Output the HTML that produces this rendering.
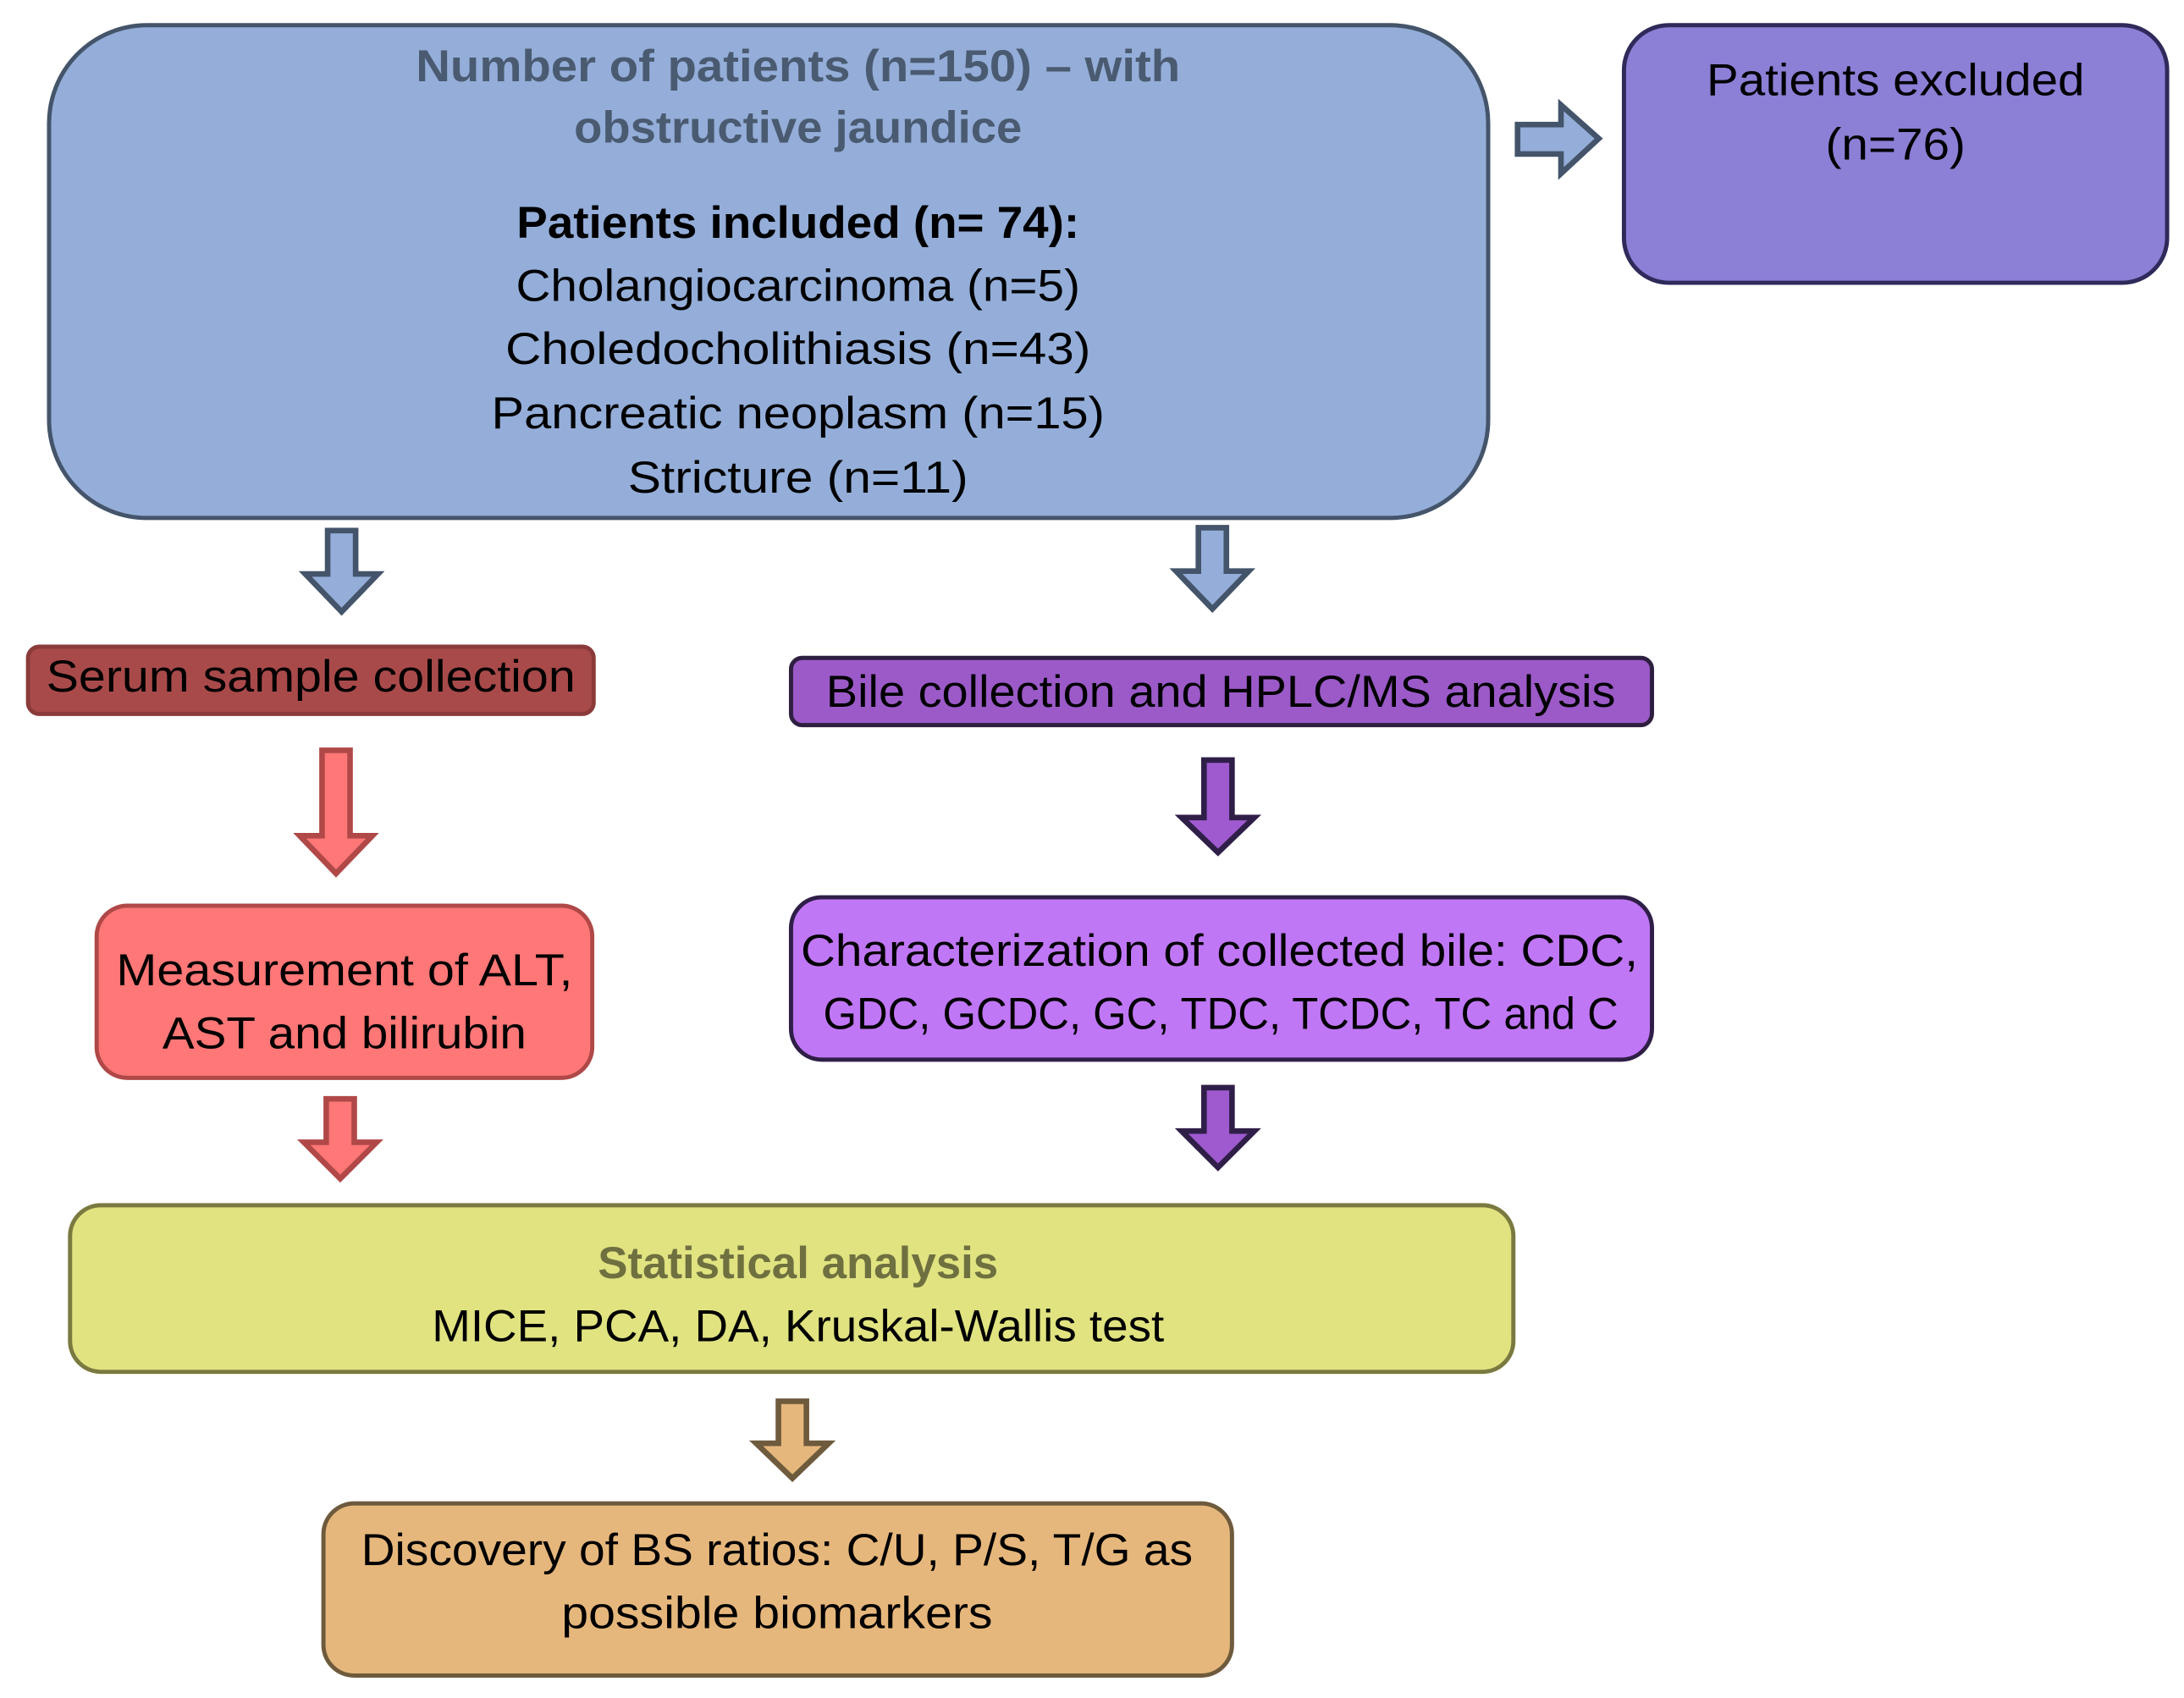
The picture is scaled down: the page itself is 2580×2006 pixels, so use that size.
<!DOCTYPE html>
<html><head><meta charset="utf-8"><style>html,body{margin:0;padding:0;background:#fff}svg{display:block}text{font-family:"Liberation Sans",sans-serif;font-size:32px;text-anchor:middle;fill:#000}</style></head>
<body>
<svg width="2580" height="2006" viewBox="0 0 1560 1213" xmlns="http://www.w3.org/2000/svg">
<rect width="1560" height="1213" fill="#fff"/>
<rect x="35" y="18" width="1028" height="352" rx="70" fill="#94aed9" stroke="#44546a" stroke-width="3"/>
<rect x="1160" y="18" width="388" height="184" rx="32" fill="#8b7fd6" stroke="#2e2a5a" stroke-width="3"/>
<rect x="20" y="462" width="404" height="48" rx="8" fill="#a94a4a" stroke="#8b3a3a" stroke-width="3"/>
<rect x="565" y="470" width="615" height="48" rx="8" fill="#9b5ac8" stroke="#2e1f40" stroke-width="3"/>
<rect x="69" y="647" width="354" height="123" rx="22" fill="#ff7777" stroke="#b04848" stroke-width="3"/>
<rect x="565" y="641" width="615" height="116" rx="22" fill="#c077f5" stroke="#2f1f48" stroke-width="3"/>
<rect x="50" y="861" width="1031" height="119" rx="22" fill="#e0e380" stroke="#7a7a40" stroke-width="3"/>
<rect x="231" y="1074" width="649" height="123" rx="22" fill="#e6b77c" stroke="#6e5a3c" stroke-width="3"/>
<polygon points="1084,89 1115,89 1115,75 1142,99 1115,124 1115,110 1084,110" fill="#94aed9" stroke="#44546a" stroke-width="4"/>
<polygon points="234,379 254,379 254,410 270,410 244,437 218,410 234,410" fill="#94aed9" stroke="#44546a" stroke-width="4"/>
<polygon points="856,377 876,377 876,408 892,408 866,435 840,408 856,408" fill="#94aed9" stroke="#44546a" stroke-width="4"/>
<polygon points="230,536 250,536 250,597 266,597 240,624 214,597 230,597" fill="#ff7777" stroke="#b04848" stroke-width="4"/>
<polygon points="860,543 880,543 880,584 896,584 870,609 844,584 860,584" fill="#a05ad0" stroke="#2f1f48" stroke-width="4"/>
<polygon points="233,785 253,785 253,816 269,816 243,842 217,816 233,816" fill="#ff7777" stroke="#b04848" stroke-width="4"/>
<polygon points="860,777 880,777 880,808 896,808 870,834 844,808 860,808" fill="#a05ad0" stroke="#2f1f48" stroke-width="4"/>
<polygon points="556,1001 576,1001 576,1031 592,1031 566,1056 540,1031 556,1031" fill="#e6b77c" stroke="#6e5a3c" stroke-width="4"/>
<g lengthAdjust="spacingAndGlyphs">
<text x="570" y="58" textLength="546" lengthAdjust="spacingAndGlyphs" font-weight="bold" style="fill:#4a5a70">Number of patients (n=150) – with</text>
<text x="570" y="102" textLength="320" lengthAdjust="spacingAndGlyphs" font-weight="bold" style="fill:#4a5a70">obstructive jaundice</text>
<text x="570" y="170" textLength="402" lengthAdjust="spacingAndGlyphs" font-weight="bold">Patients included (n= 74):</text>
<text x="570" y="215" textLength="403" lengthAdjust="spacingAndGlyphs">Cholangiocarcinoma (n=5)</text>
<text x="570" y="260" textLength="418" lengthAdjust="spacingAndGlyphs">Choledocholithiasis  (n=43)</text>
<text x="570" y="306" textLength="438" lengthAdjust="spacingAndGlyphs">Pancreatic neoplasm  (n=15)</text>
<text x="570" y="352" textLength="243" lengthAdjust="spacingAndGlyphs">Stricture (n=11)</text>
<text x="1354" y="68" textLength="270" lengthAdjust="spacingAndGlyphs">Patients excluded</text>
<text x="1354" y="114" textLength="100" lengthAdjust="spacingAndGlyphs">(n=76)</text>
<text x="222" y="494" textLength="378" lengthAdjust="spacingAndGlyphs">Serum sample collection</text>
<text x="872" y="505" textLength="564" lengthAdjust="spacingAndGlyphs">Bile collection and HPLC/MS analysis</text>
<text x="246" y="704" textLength="326" lengthAdjust="spacingAndGlyphs">Measurement of ALT,</text>
<text x="246" y="749" textLength="260" lengthAdjust="spacingAndGlyphs">AST and bilirubin</text>
<text x="871" y="690" textLength="598" lengthAdjust="spacingAndGlyphs">Characterization of collected bile: CDC,</text>
<text x="872" y="735" textLength="568" lengthAdjust="spacingAndGlyphs">GDC, GCDC, GC, TDC, TCDC, TC and C</text>
<text x="570" y="913" textLength="286" lengthAdjust="spacingAndGlyphs" font-weight="bold" style="fill:#6f7040">Statistical analysis</text>
<text x="570" y="958" textLength="523" lengthAdjust="spacingAndGlyphs">MICE, PCA, DA, Kruskal-Wallis test</text>
<text x="555" y="1118" textLength="594" lengthAdjust="spacingAndGlyphs">Discovery of BS ratios: C/U, P/S, T/G as</text>
<text x="555" y="1163" textLength="308" lengthAdjust="spacingAndGlyphs">possible biomarkers</text>
</g>
</svg>
</body></html>
